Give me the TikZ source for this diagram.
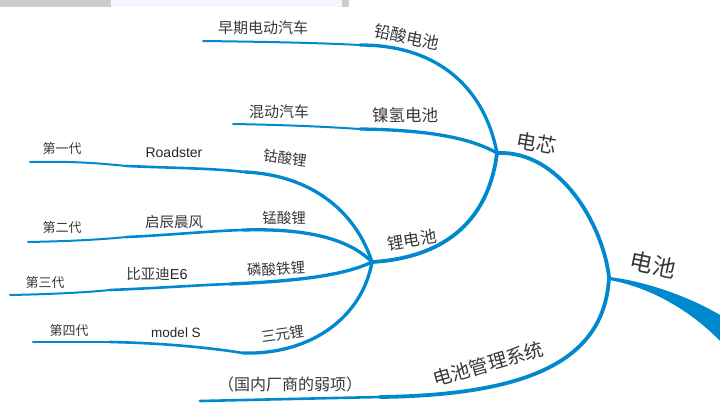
\documentclass[tikz,border=0pt]{standalone}
\usepackage{fontspec}
\setsansfont{Liberation Sans}
\newfontfamily\cjk{Noto Sans CJK SC}
\definecolor{mapblue}{RGB}{0,137,206}
\definecolor{inkgray}{RGB}{55,55,55}

\begin{document}
\begin{tikzpicture}[x=1pt,y=-1pt,line cap=round,line join=round,
  trunk/.style={mapblue,line width=3.8pt},
  limb/.style={mapblue,line width=3.3pt},
  sprig/.style={mapblue,line width=2.6pt},
  twig/.style={mapblue,line width=2pt},
  lbl/.style={text=inkgray,inner sep=0pt,font=\cjk\fontsize{#1}{#1}\selectfont},
  lbl/.default=14.5,
  latin/.style={text=black!85,inner sep=0pt,font=\sffamily\fontsize{#1}{#1}\selectfont}]
\useasboundingbox (0,0) rectangle (720,407);
% screenshot strip at the top edge
\fill[black!20] (0,0) rectangle (111,7);
\fill[blue!4] (111,0) rectangle (342,7);
\fill[black!20] (342,0) rectangle (349,7);

% junctions
\coordinate (hub) at (609,277);
\coordinate (core) at (497,153);
\coordinate (li) at (372,262);
\coordinate (tipR) at (720,315);
\coordinate (tipRlow) at (720,341);

% root: tapered
\fill[mapblue] (hub) .. controls (645,281) and (690,297) .. (tipR) -- (tipRlow)
  .. controls (695,315) and (655,288) .. (609,280) -- cycle;
\node[lbl=23,rotate=-12] (battery) at (653,265) {电池};

% cell
\draw[trunk] (core) .. controls (560,150) and (603,225) .. (hub);
\node[lbl=20,rotate=-10] (cell) at (537,143) {电芯};

% BMS
\coordinate (bmsend) at (200,401);
\coordinate (bmsmid) at (380,397);
\draw[sprig] (bmsend) -- (bmsmid);
\draw[trunk] (bmsmid) .. controls (530,395) and (605,360) .. (hub);
\node[lbl=19,rotate=16] (bms) at (488,364) {电池管理系统};
\node[lbl=16] (weak) at (290,384) {（国内厂商的弱项）};

% lead acid
\coordinate (leadend) at (203,41);
\coordinate (leadmid) at (360,45);
\draw[twig] (leadend) .. controls (280,42) and (320,43) .. (leadmid);
\draw[limb] (leadmid) .. controls (440,45) and (485,90) .. (core);
\node[lbl=16.5,rotate=-12] (lead) at (407,37) {铅酸电池};
\node[lbl=15] (early) at (263,28) {早期电动汽车};

% NiMH
\coordinate (nimhend) at (233,124);
\coordinate (nimhmid) at (360,129);
\draw[twig] (nimhend) .. controls (290,125) and (330,127) .. (nimhmid);
\draw[limb] (nimhmid) .. controls (430,130) and (470,138) .. (core);
\node[lbl=16.5] (nimh) at (405,115) {镍氢电池};
\node[lbl=15] (hybrid) at (279,112) {混动汽车};

% lithium
\draw[trunk] (li) .. controls (440,258) and (488,225) .. (core);
\node[lbl=16.5,rotate=9] (lithium) at (412,240) {锂电池};

% cobalt
\coordinate (g1a) at (30,162);
\coordinate (g1b) at (127,166);
\coordinate (g1c) at (245,172);
\draw[twig] (g1a) .. controls (80,161) and (105,164) .. (g1b);
\draw[sprig] (g1b) .. controls (170,168) and (210,168) .. (g1c);
\draw[limb] (g1c) .. controls (310,175) and (355,210) .. (li);
\node[lbl,rotate=-8] (cobalt) at (285,158) {钴酸锂};
\node[latin=14] (roadster) at (174,152) {Roadster};
\node[lbl=13] (gen1) at (62,149) {第一代};

% manganese
\coordinate (g2a) at (28,242);
\coordinate (g2b) at (127,237);
\coordinate (g2c) at (243,230);
\draw[twig] (g2a) .. controls (80,241) and (105,239) .. (g2b);
\draw[sprig] (g2b) .. controls (170,235) and (210,231) .. (g2c);
\draw[limb] (g2c) .. controls (310,228) and (350,240) .. (li);
\node[lbl] (manganese) at (284,218) {锰酸锂};
\node[lbl] (venucia) at (174,222) {启辰晨风};
\node[lbl=13] (gen2) at (62,228) {第二代};

% iron phosphate
\coordinate (g3a) at (10,295);
\coordinate (g3b) at (110,290);
\coordinate (g3c) at (230,284);
\draw[twig] (g3a) .. controls (60,294) and (90,292) .. (g3b);
\draw[sprig] (g3b) .. controls (160,288) and (200,285) .. (g3c);
\draw[limb] (g3c) .. controls (300,281) and (345,275) .. (li);
\node[lbl,rotate=3] (phosphate) at (276,269) {磷酸铁锂};
\node[lbl] (byd) at (157,274) {比亚迪{\sffamily\color{black!85}E6}};
\node[lbl=13] (gen3) at (45,283) {第三代};

% ternary
\coordinate (g4a) at (33,342);
\coordinate (g4b) at (110,342);
\coordinate (g4c) at (243,353);
\draw[twig] (g4a) .. controls (70,342) and (90,342) .. (g4b);
\draw[sprig] (g4b) .. controls (160,343) and (205,347) .. (g4c);
\draw[limb] (g4c) .. controls (310,355) and (362,318) .. (li);
\node[lbl,rotate=8] (ternary) at (283,334) {三元锂};
\node[latin=13.5] (models) at (176,333) {model S};
\node[lbl=13] (gen4) at (69,331) {第四代};
\end{tikzpicture}
\end{document}
